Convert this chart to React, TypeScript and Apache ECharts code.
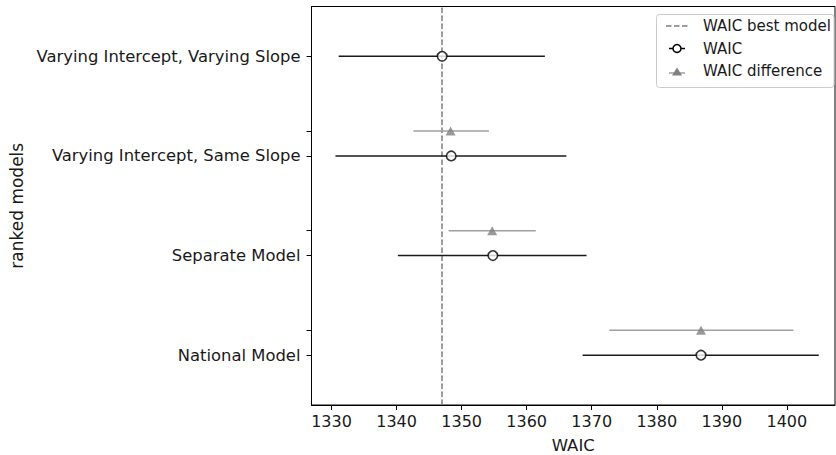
import React, { useEffect, useRef } from "react";
import * as echarts from "echarts";

const models = [
  "Varying Intercept, Varying Slope",
  "Varying Intercept, Same Slope",
  "Separate Model",
  "National Model",
];
const waic = [1347.0, 1348.4, 1354.8, 1386.8];
const waicLow = [1331.1, 1330.6, 1340.2, 1368.6];
const waicHigh = [1362.8, 1366.1, 1369.2, 1404.9];
// difference vs best model (for ranks 1..3)
const diffRanks = [1, 2, 3];
const diffVal = [1348.3, 1354.7, 1386.8];
const diffLow = [1342.6, 1348.0, 1372.7];
const diffHigh = [1354.2, 1361.4, 1401.0];
const bestWaic = 1347.0;
const xTicks = [1330, 1340, 1350, 1360, 1370, 1380, 1390, 1400];

const FONT = "DejaVu Sans";
const TXT = "#1a1a1a";

export default function App() {
  const ref = useRef<HTMLDivElement>(null);
  useEffect(() => {
    if (!ref.current) return;
    const chart = echarts.init(ref.current, null, { renderer: "svg" });
    const n = models.length;
    const yPos = (rank: number) => n - 1 - rank;
    const waicBars = models.map((_, i) => [waicLow[i], waicHigh[i], yPos(i)]);
    const waicPts = models.map((_, i) => [waic[i], yPos(i)]);
    const diffBars = diffRanks.map((r, j) => [diffLow[j], diffHigh[j], yPos(r) + 0.25]);
    const diffPts = diffRanks.map((r, j) => [diffVal[j], yPos(r) + 0.25]);
    const yTickVals: number[] = [];
    models.forEach((_, i) => yTickVals.push(yPos(i)));
    diffRanks.forEach((r) => yTickVals.push(yPos(r) + 0.25));
    yTickVals.sort((a, b) => a - b);

    const errRender = (color: string) => (params: any, api: any) => {
      const lo = api.coord([api.value(0), api.value(2)]);
      const hi = api.coord([api.value(1), api.value(2)]);
      return {
        type: "line",
        shape: { x1: lo[0], y1: lo[1], x2: hi[0], y2: hi[1] },
        style: { stroke: color, lineWidth: 1.5 },
      };
    };

    const legendX = 677;
    const textX = 703;
    const rows = [26, 48.5, 71];

    chart.setOption({
      animation: false,
      textStyle: { fontFamily: FONT },
      grid: {
        left: 311.5,
        right: 1,
        top: 6.5,
        bottom: 50,
        show: true,
        borderColor: "#000",
        borderWidth: 1,
        outerBoundsMode: "none",
        containLabel: false,
      },
      xAxis: {
        type: "value",
        min: 1326.92,
        max: 1407.4,
        name: "WAIC",
        nameLocation: "middle",
        nameGap: 32,
        nameTextStyle: { fontSize: 16.5, color: TXT, fontFamily: FONT },
        axisLine: { show: true, onZero: false, lineStyle: { color: "#000", width: 1 } },
        axisTick: {
          show: true,
          length: 5,
          customValues: xTicks,
          lineStyle: { color: "#000", width: 1 },
        },
        axisLabel: {
          customValues: xTicks,
          formatter: (v: number) => String(v),
          fontSize: 16,
          color: TXT,
          fontFamily: FONT,
          margin: 8,
        },
        splitLine: { show: false },
      },
      yAxis: {
        type: "value",
        min: -0.5,
        max: 3.5,
        name: "ranked models",
        nameLocation: "middle",
        nameRotate: 90,
        nameGap: 282,
        nameTextStyle: { fontSize: 17, color: TXT, fontFamily: FONT },
        axisLine: { show: true, onZero: false, lineStyle: { color: "#000", width: 1 } },
        axisTick: {
          show: true,
          length: 5,
          customValues: yTickVals,
          lineStyle: { color: "#000", width: 1 },
        },
        axisLabel: {
          customValues: models.map((_, i) => yPos(i)),
          formatter: (v: number) => models[n - 1 - Math.round(v)],
          fontSize: 16.4,
          color: TXT,
          fontFamily: FONT,
          margin: 11,
        },
        splitLine: { show: false },
      },
      series: [
        {
          type: "custom",
          name: "WAIC difference bars",
          renderItem: errRender("#a0a0a0"),
          data: diffBars,
          encode: { x: [0, 1], y: 2 },
          z: 2,
          silent: true,
          markLine: {
            silent: true,
            symbol: ["none", "none"],
            label: { show: false },
            lineStyle: { color: "#7f7f7f", type: [5.5, 2.5], width: 1.5 },
            data: [{ xAxis: bestWaic }],
            z: 1,
          },
        },
        {
          type: "custom",
          name: "WAIC bars",
          renderItem: errRender("#1a1a1a"),
          data: waicBars,
          encode: { x: [0, 1], y: 2 },
          z: 3,
          silent: true,
        },
        {
          type: "scatter",
          name: "WAIC difference",
          data: diffPts,
          symbol: "triangle",
          symbolSize: [10, 9],
          itemStyle: { color: "#808080" },
          z: 4,
        },
        {
          type: "scatter",
          name: "WAIC",
          data: waicPts,
          symbol: "circle",
          symbolSize: 9.5,
          itemStyle: { color: "#ffffff", borderColor: "#000", borderWidth: 1.6 },
          z: 5,
        },
      ],
      graphic: [
        {
          type: "rect",
          shape: { x: 656.5, y: 14.5, width: 177.5, height: 73, r: 3 },
          style: { fill: "rgba(255,255,255,0.8)", stroke: "#cccccc", lineWidth: 1 },
          z: 10,
        },
        {
          type: "line",
          shape: { x1: legendX - 11, y1: rows[0], x2: legendX + 13, y2: rows[0] },
          style: { stroke: "#7f7f7f", lineWidth: 1.5, lineDash: [5.5, 2.5] },
          z: 11,
        },
        {
          type: "line",
          shape: { x1: legendX - 8, y1: rows[1], x2: legendX + 8, y2: rows[1] },
          style: { stroke: "#000", lineWidth: 1.5 },
          z: 11,
        },
        {
          type: "circle",
          shape: { cx: legendX, cy: rows[1], r: 4 },
          style: { fill: "#fff", stroke: "#000", lineWidth: 1.5 },
          z: 12,
        },
        {
          type: "line",
          shape: { x1: legendX - 8, y1: rows[2] + 2, x2: legendX + 8, y2: rows[2] + 2 },
          style: { stroke: "#a0a0a0", lineWidth: 1.5 },
          z: 11,
        },
        {
          type: "polygon",
          shape: {
            points: [
              [legendX, rows[2] - 3.5],
              [legendX - 5, rows[2] + 4.5],
              [legendX + 5, rows[2] + 4.5],
            ],
          },
          style: { fill: "#808080" },
          z: 12,
        },
        {
          type: "text",
          x: textX,
          y: rows[0],
          style: { text: "WAIC best model", fontSize: 15, fontFamily: FONT, fill: TXT, verticalAlign: "middle" },
          z: 12,
        },
        {
          type: "text",
          x: textX,
          y: rows[1],
          style: { text: "WAIC", fontSize: 15, fontFamily: FONT, fill: TXT, verticalAlign: "middle" },
          z: 12,
        },
        {
          type: "text",
          x: textX,
          y: rows[2],
          style: { text: "WAIC difference", fontSize: 15, fontFamily: FONT, fill: TXT, verticalAlign: "middle" },
          z: 12,
        },
      ],
    });
    return () => chart.dispose();
  }, []);
  return (
    <div
      ref={ref}
      style={{ position: "fixed", left: 0, top: 0, width: 836, height: 455, background: "#fff" }}
    />
  );
}
